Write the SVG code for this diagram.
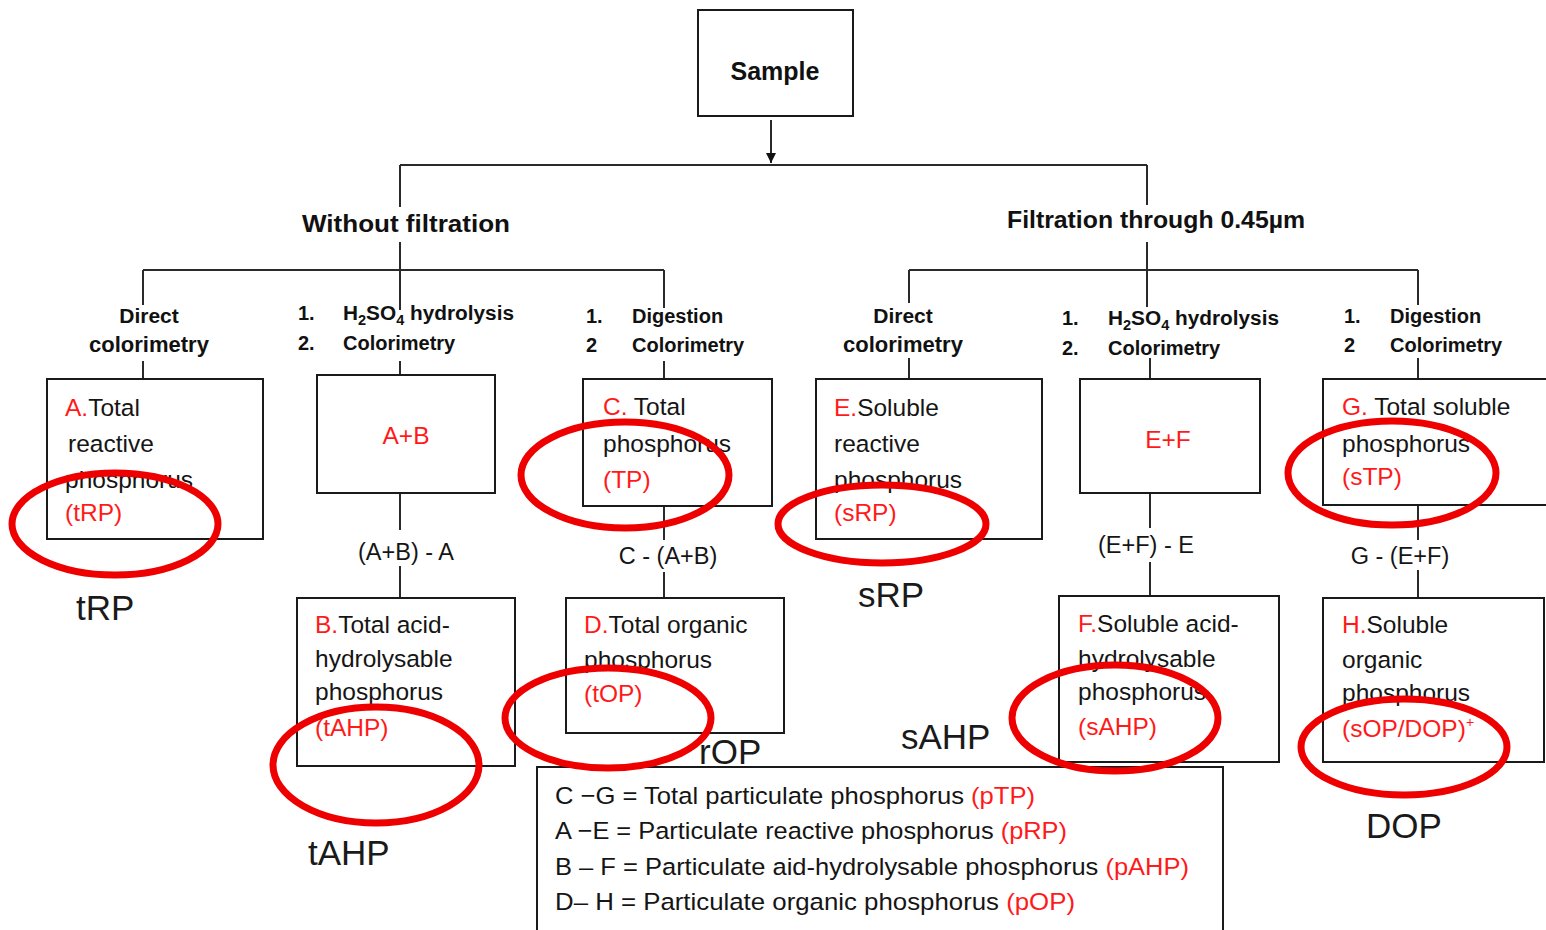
<svg xmlns="http://www.w3.org/2000/svg" width="1546" height="930" viewBox="0 0 1546 930">
<defs>
<style>
.bx{fill:#fff;stroke:#1a1a1a;stroke-width:2}
.ln{stroke:#2a2a2a;stroke-width:2;fill:none}
.t{font-family:"Liberation Sans",Arial,sans-serif;font-size:24.5px;fill:#151515}
.c{font-family:"Liberation Sans",Arial,sans-serif;font-size:23.5px;fill:#151515}
.b{font-family:"Liberation Sans",Arial,sans-serif;font-weight:bold;fill:#111}
.r{fill:#ff1a1a}
.big{font-family:"Liberation Sans",Arial,sans-serif;font-size:35px;fill:#1a1a1a}
.ov{fill:none;stroke:#ee0000;stroke-width:7}
</style>
<marker id="ah" viewBox="0 0 10 10" refX="10" refY="5" markerWidth="10" markerHeight="10" markerUnits="userSpaceOnUse" orient="auto">
<path d="M0,0 L10,5 L0,10 z" fill="#111"/>
</marker>
</defs>
<rect width="1546" height="930" fill="#fff"/>

<g id="connectors">
<line class="ln" x1="771" y1="120" x2="771" y2="163" marker-end="url(#ah)"/>
<line class="ln" x1="400" y1="165" x2="1147" y2="165"/>
<line class="ln" x1="400" y1="165" x2="400" y2="207"/>
<line class="ln" x1="400" y1="242" x2="400" y2="310"/>
<line class="ln" x1="1147" y1="165" x2="1147" y2="205"/>
<line class="ln" x1="1147" y1="242" x2="1147" y2="307"/>
<line class="ln" x1="143" y1="270" x2="664" y2="270"/>
<line class="ln" x1="143" y1="270" x2="143" y2="305"/>
<line class="ln" x1="143" y1="361" x2="143" y2="379"/>
<line class="ln" x1="664" y1="270" x2="664" y2="308"/>
<line class="ln" x1="664" y1="361" x2="664" y2="379"/>
<line class="ln" x1="400" y1="361" x2="400" y2="375"/>
<line class="ln" x1="400" y1="493" x2="400" y2="530"/>
<line class="ln" x1="400" y1="566" x2="400" y2="598"/>
<line class="ln" x1="664" y1="506" x2="664" y2="540"/>
<line class="ln" x1="664" y1="572" x2="664" y2="598"/>
<line class="ln" x1="909" y1="270" x2="1418" y2="270"/>
<line class="ln" x1="909" y1="270" x2="909" y2="303"/>
<line class="ln" x1="909" y1="358" x2="909" y2="379"/>
<line class="ln" x1="1150" y1="358" x2="1150" y2="379"/>
<line class="ln" x1="1150" y1="493" x2="1150" y2="528"/>
<line class="ln" x1="1150" y1="562" x2="1150" y2="596"/>
<line class="ln" x1="1418" y1="270" x2="1418" y2="305"/>
<line class="ln" x1="1418" y1="358" x2="1418" y2="379"/>
<line class="ln" x1="1418" y1="505" x2="1418" y2="540"/>
<line class="ln" x1="1418" y1="570" x2="1418" y2="598"/>
<text class="c" x="406" y="560" text-anchor="middle">(A+B) - A</text>
<text class="c" x="668" y="564" text-anchor="middle">C - (A+B)</text>
<text class="c" x="1146" y="553" text-anchor="middle">(E+F) - E</text>
<text class="c" x="1400" y="564" text-anchor="middle">G - (E+F)</text>
</g>

<g id="sample">
<rect class="bx" x="698" y="10" width="155" height="106"/>
<text class="b" x="775" y="80" font-size="25" text-anchor="middle">Sample</text>
</g>

<g id="without-filtration">
<text class="b" x="302" y="232" font-size="23" textLength="208" lengthAdjust="spacingAndGlyphs">Without filtration</text>
</g>
<g id="filtration">
<text class="b" x="1007" y="228" font-size="23" textLength="298" lengthAdjust="spacingAndGlyphs">Filtration through 0.45µm</text>
</g>

<g id="method-left-direct">
<text class="b" x="149" y="323" font-size="21" text-anchor="middle">Direct</text>
<text class="b" x="149" y="352" font-size="22" text-anchor="middle">colorimetry</text>
</g>
<g id="method-left-h2so4">
<text class="b" x="298" y="320" font-size="20">1.</text>
<text class="b" x="343" y="320" font-size="20" textLength="171" lengthAdjust="spacingAndGlyphs">H<tspan font-size="14" dy="5">2</tspan><tspan dy="-5">SO</tspan><tspan font-size="14" dy="5">4</tspan><tspan dy="-5"> hydrolysis</tspan></text>
<text class="b" x="298" y="350" font-size="20">2.</text>
<text class="b" x="343" y="350" font-size="20">Colorimetry</text>
</g>
<g id="method-left-digestion">
<text class="b" x="586" y="323" font-size="20">1.</text>
<text class="b" x="632" y="323" font-size="20">Digestion</text>
<text class="b" x="586" y="352" font-size="20">2</text>
<text class="b" x="632" y="352" font-size="20">Colorimetry</text>
</g>
<g id="method-right-direct">
<text class="b" x="903" y="323" font-size="21" text-anchor="middle">Direct</text>
<text class="b" x="903" y="352" font-size="22" text-anchor="middle">colorimetry</text>
</g>
<g id="method-right-h2so4">
<text class="b" x="1062" y="325" font-size="20">1.</text>
<text class="b" x="1108" y="325" font-size="20" textLength="171" lengthAdjust="spacingAndGlyphs">H<tspan font-size="14" dy="5">2</tspan><tspan dy="-5">SO</tspan><tspan font-size="14" dy="5">4</tspan><tspan dy="-5"> hydrolysis</tspan></text>
<text class="b" x="1062" y="355" font-size="20">2.</text>
<text class="b" x="1108" y="355" font-size="20">Colorimetry</text>
</g>
<g id="method-right-digestion">
<text class="b" x="1344" y="323" font-size="20">1.</text>
<text class="b" x="1390" y="323" font-size="20">Digestion</text>
<text class="b" x="1344" y="352" font-size="20">2</text>
<text class="b" x="1390" y="352" font-size="20">Colorimetry</text>
</g>

<g id="node-A">
<rect class="bx" x="47" y="379" width="216" height="160"/>
<text class="t" x="65" y="416"><tspan class="r">A.</tspan>Total</text>
<text class="t" x="68" y="452">reactive</text>
<text class="t" x="65" y="488">phosphorus</text>
<text class="t r" x="65" y="521">(tRP)</text>
</g>
<g id="node-AB">
<rect class="bx" x="317" y="375" width="178" height="118"/>
<text class="t r" x="406" y="444" text-anchor="middle">A+B</text>
</g>
<g id="node-B">
<rect class="bx" x="297" y="598" width="218" height="168"/>
<text class="t" x="315" y="633"><tspan class="r">B.</tspan>Total acid-</text>
<text class="t" x="315" y="667">hydrolysable</text>
<text class="t" x="315" y="700">phosphorus</text>
<text class="t r" x="315" y="736">(tAHP)</text>
</g>
<g id="node-C">
<rect class="bx" x="583" y="379" width="189" height="127"/>
<text class="t" x="603" y="415"><tspan class="r">C.</tspan> Total</text>
<text class="t" x="603" y="452">phosphorus</text>
<text class="t r" x="603" y="488">(TP)</text>
</g>
<g id="node-D">
<rect class="bx" x="566" y="598" width="218" height="135"/>
<text class="t" x="584" y="633"><tspan class="r">D.</tspan>Total organic</text>
<text class="t" x="584" y="668">phosphorus</text>
<text class="t r" x="584" y="702">(tOP)</text>
</g>
<g id="node-E">
<rect class="bx" x="816" y="379" width="226" height="160"/>
<text class="t" x="834" y="416"><tspan class="r">E.</tspan>Soluble</text>
<text class="t" x="834" y="452">reactive</text>
<text class="t" x="834" y="488">phosphorus</text>
<text class="t r" x="834" y="521">(sRP)</text>
</g>
<g id="node-EF">
<rect class="bx" x="1080" y="379" width="180" height="114"/>
<text class="t r" x="1168" y="448" text-anchor="middle">E+F</text>
</g>
<g id="node-F">
<rect class="bx" x="1059" y="596" width="220" height="166"/>
<text class="t" x="1078" y="632"><tspan class="r">F.</tspan>Soluble acid-</text>
<text class="t" x="1078" y="667">hydrolysable</text>
<text class="t" x="1078" y="700">phosphorus</text>
<text class="t r" x="1078" y="735">(sAHP)</text>
</g>
<g id="node-G">
<rect class="bx" x="1323" y="379" width="240" height="126"/>
<text class="t" x="1342" y="415"><tspan class="r">G.</tspan> Total soluble</text>
<text class="t" x="1342" y="452">phosphorus</text>
<text class="t r" x="1342" y="485">(sTP)</text>
</g>
<g id="node-H">
<rect class="bx" x="1323" y="598" width="221" height="164"/>
<text class="t" x="1342" y="633"><tspan class="r">H.</tspan>Soluble</text>
<text class="t" x="1342" y="668">organic</text>
<text class="t" x="1342" y="701">phosphorus</text>
<text class="t r" x="1342" y="737">(sOP/DOP)<tspan font-size="14" dy="-10">+</tspan></text>
</g>

<g id="legend">
<rect class="bx" x="537" y="767" width="686" height="180"/>
<text class="t" x="555" y="804" textLength="480" lengthAdjust="spacingAndGlyphs">C −G = Total particulate phosphorus <tspan class="r">(pTP)</tspan></text>
<text class="t" x="555" y="839" textLength="512" lengthAdjust="spacingAndGlyphs">A −E = Particulate reactive phosphorus <tspan class="r">(pRP)</tspan></text>
<text class="t" x="555" y="875" textLength="634" lengthAdjust="spacingAndGlyphs">B – F = Particulate aid-hydrolysable phosphorus <tspan class="r">(pAHP)</tspan></text>
<text class="t" x="555" y="910" textLength="520" lengthAdjust="spacingAndGlyphs">D– H = Particulate organic phosphorus <tspan class="r">(pOP)</tspan></text>
</g>

<g id="annotation-labels">
<text class="big" x="76" y="620">tRP</text>
<text class="big" x="308" y="865">tAHP</text>
<text class="big" x="858" y="607">sRP</text>
<text class="big" x="901" y="749">sAHP</text>
<text class="big" x="699" y="764">rOP</text>
<text class="big" x="1366" y="838">DOP</text>
</g>

<g id="highlights">
<ellipse class="ov" cx="115" cy="524" rx="103" ry="51"/>
<ellipse class="ov" cx="625" cy="475" rx="104" ry="53"/>
<ellipse class="ov" cx="882" cy="524" rx="104" ry="39"/>
<ellipse class="ov" cx="1392" cy="473" rx="104" ry="52"/>
<ellipse class="ov" cx="376" cy="765" rx="103" ry="58"/>
<ellipse class="ov" cx="608" cy="718" rx="103" ry="50"/>
<ellipse class="ov" cx="1115" cy="718" rx="103" ry="53"/>
<ellipse class="ov" cx="1404" cy="747" rx="103" ry="48"/>
</g>
</svg>
